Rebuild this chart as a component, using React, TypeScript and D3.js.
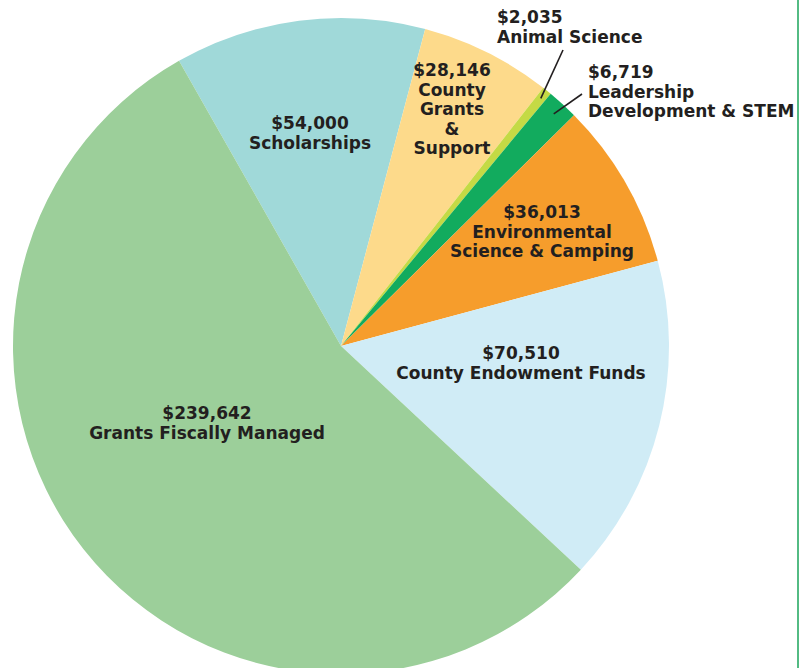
import React from "react";
import * as d3 from "d3";

const categories = [
  "Scholarships",
  "County Grants & Support",
  "Animal Science",
  "Leadership Development & STEM",
  "Environmental Science & Camping",
  "County Endowment Funds",
  "Grants Fiscally Managed",
];
const values = [54000, 28146, 2035, 6719, 36013, 70510, 239642];
const valueLabels = ["$54,000", "$28,146", "$2,035", "$6,719", "$36,013", "$70,510", "$239,642"];
const nameLines = [
  ["Scholarships"],
  ["County", "Grants", "&", "Support"],
  ["Animal Science"],
  ["Leadership", "Development & STEM"],
  ["Environmental", "Science & Camping"],
  ["County Endowment Funds"],
  ["Grants Fiscally Managed"],
];
const colors = ["#a0d9d9", "#fdda8b", "#c4da45", "#12ab5e", "#f69d2c", "#d0ecf6", "#9ccf9a"];

// label layout (position of first line, anchor) — layout only
const labelLayout = [
  { x: 310, y: 129, anchor: "middle", lh: 20 },
  { x: 452, y: 76, anchor: "middle", lh: 19.5 },
  { x: 497, y: 23, anchor: "start", lh: 20 },
  { x: 588, y: 78, anchor: "start", lh: 19.5 },
  { x: 542, y: 218, anchor: "middle", lh: 19.5 },
  { x: 521, y: 359, anchor: "middle", lh: 20 },
  { x: 207, y: 419, anchor: "middle", lh: 20 },
];
// leader lines: outer end (label side), inner end radius fraction
const leaders: Record<number, { x: number; y: number; rf: number }> = {
  2: { x: 563, y: 50, rf: 0.97 },
  3: { x: 582, y: 94, rf: 0.96 },
};

const W = 801;
const H = 668;
const cx = 341;
const cy = 346;
const R = 328;

export default function App() {
  const start = (-29.6 * Math.PI) / 180;
  const pie = d3
    .pie<number>()
    .sort(null)
    .value((d) => d)
    .startAngle(start)
    .endAngle(start + 2 * Math.PI);
  const arcs = pie(values);
  const arc = d3.arc<d3.PieArcDatum<number>>().innerRadius(0).outerRadius(R);

  return (
    <svg
      width={W}
      height={H}
      style={{ position: "absolute", left: 0, top: 0, background: "#fff" }}
      fontFamily="'DejaVu Sans', sans-serif"
    >
      <rect x={0} y={0} width={W} height={H} fill="#fff" />
      <g transform={`translate(${cx},${cy})`}>
        {arcs.map((a, i) => (
          <path key={categories[i]} d={arc(a) || ""} fill={colors[i]} />
        ))}
      </g>
      {Object.keys(leaders).map((k) => {
        const i = +k;
        const a = arcs[i];
        const mid = (a.startAngle + a.endAngle) / 2;
        const r = R * leaders[i].rf;
        const x2 = cx + r * Math.sin(mid);
        const y2 = cy - r * Math.cos(mid);
        return (
          <line
            key={"l" + i}
            x1={leaders[i].x}
            y1={leaders[i].y}
            x2={x2}
            y2={y2}
            stroke="#231f20"
            strokeWidth={1.6}
          />
        );
      })}
      {categories.map((c, i) => {
        const L = labelLayout[i];
        const lines = [valueLabels[i], ...nameLines[i]];
        return (
          <text
            key={"t" + c}
            x={L.x}
            y={L.y}
            textAnchor={L.anchor as any}
            fontSize={17}
            fontWeight="bold"
            fill="#231f20"
          >
            {lines.map((ln, j) => (
              <tspan key={j} x={L.x} dy={j === 0 ? 0 : L.lh}>
                {ln}
              </tspan>
            ))}
          </text>
        );
      })}
      <line x1={798} y1={0} x2={798} y2={H} stroke="#1aa55a" strokeWidth={1.5} />
    </svg>
  );
}
